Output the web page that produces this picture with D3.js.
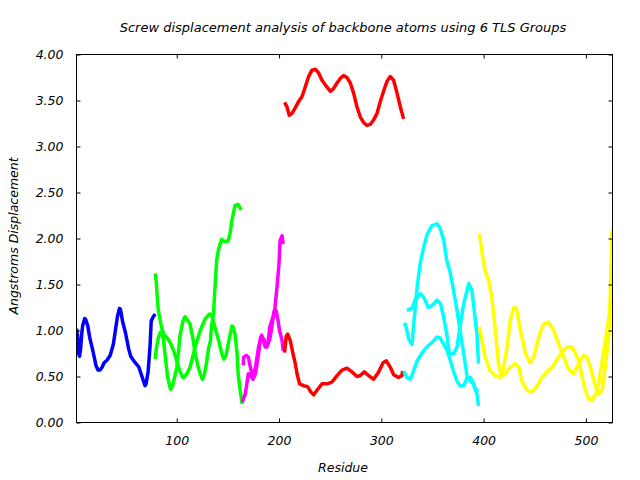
<!DOCTYPE html>
<html>
<head>
<meta charset="utf-8">
<script src="https://cdn.jsdelivr.net/npm/d3@7"></script>
<style>
  html, body { margin: 0; padding: 0; background: #fff; }
  svg text { font-family: "DejaVu Sans", sans-serif; font-style: italic; fill: #000; }
</style>
</head>
<body>
<svg id="chart" width="640" height="480"></svg>
<script>
// ---- Data: [residue, displacement (Å)] ----
const title = "Screw displacement analysis of backbone atoms using 6 TLS Groups";
const xLabel = "Residue";
const yLabel = "Angstroms Displacement";
const xTicks = [100, 200, 300, 400, 500];
const yTicks = [0, 0.5, 1, 1.5, 2, 2.5, 3, 3.5, 4];

const blue1 = [[2,1.02],[3,0.95],[4,0.75],[5,0.72],[6,0.8],[7,0.95],[8,1.05],[10,1.13],[11,1.12],[13,1.05],[15,0.92],[18,0.78],[21,0.62],[23,0.57],[25,0.57],[27,0.6],[29,0.65],[32,0.68],[35,0.73],[38,0.85],[40,1.0],[42,1.15],[44,1.24],[45,1.23],[47,1.1],[50,0.97],[53,0.8],[55,0.72],[58,0.67],[61,0.63],[63,0.6],[66,0.5],[69,0.4],[70,0.42],[72,0.55],[74,0.85],[75,1.1],[77,1.15],[79,1.18]];

const green1 = [[79,1.62],[80,1.53],[81,1.35],[82,1.22],[84,1.1],[86,1.0],[88,0.95],[90,0.93],[92,0.9],[94,0.86],[97,0.78],[100,0.67],[103,0.56],[106,0.49],[107,0.49],[110,0.53],[113,0.6],[118,0.82],[123,1.0],[128,1.13],[132,1.18],[134,1.17],[137,1.05],[141,0.89],[144,0.75],[146,0.69],[148,0.72],[151,0.89],[154,1.05],[155,1.04],[157,0.96],[159,0.75],[160,0.53],[162,0.35],[164,0.2]];
const green2 = [[79,0.69],[80,0.8],[82,0.92],[84,0.98],[86,0.95],[87,0.9],[89,0.7],[91,0.5],[93,0.4],[94,0.36],[96,0.4],[98,0.5],[100,0.6],[102,0.8],[103,0.93],[106,1.1],[108,1.15],[110,1.12],[113,1.07],[116,0.9],[118,0.75],[121,0.6],[123,0.53],[125,0.47],[127,0.52],[129,0.64],[131,0.8],[133,0.89],[134,1.05],[136,1.18],[137,1.4],[138,1.58],[139,1.76],[141,1.89],[144,1.99],[146,1.97],[150,1.97],[152,2.05],[154,2.2],[157,2.36],[160,2.37],[163,2.31]];

const magenta1 = [[165,0.62],[165.5,0.71],[168,0.73],[170,0.71],[172,0.6],[174.5,0.47],[177,0.53],[180,0.75],[182,0.93],[185,0.91],[188,0.82],[191,0.91],[193,1.04],[195,1.2],[197,1.22],[199,1.11],[200.5,1.0],[203,0.89],[204,0.78]];
const magenta2 = [[164,0.22],[167,0.31],[170,0.53],[173.5,0.49],[177,0.6],[180,0.82],[183,0.95],[186.5,0.82],[189,0.85],[191,1.04],[195,1.18],[196,1.25],[198,1.47],[200,1.73],[201,1.98],[203,2.03],[204,1.94]];

const red1 = [[205.4,3.48],[207.8,3.43],[210,3.34],[212.7,3.36],[215.9,3.42],[219.1,3.49],[222.4,3.54],[225.7,3.65],[228.9,3.76],[232.2,3.83],[235.5,3.84],[238.7,3.8],[242,3.72],[245.2,3.67],[250.1,3.6],[253.3,3.63],[256.7,3.69],[259.9,3.74],[263.1,3.77],[266.4,3.75],[269.7,3.69],[272.9,3.58],[276.2,3.43],[279.5,3.32],[282.7,3.26],[286,3.23],[289.2,3.24],[292.5,3.29],[295.8,3.36],[299,3.49],[302.2,3.6],[305.6,3.71],[308.8,3.76],[312,3.72],[315.4,3.58],[318.6,3.43],[321.8,3.3]];
const red2 = [[205.4,0.76],[207.1,0.94],[208.4,0.96],[211,0.89],[213.6,0.75],[215.9,0.64],[217.6,0.53],[220.1,0.42],[224,0.4],[227.9,0.39],[231.2,0.33],[233.8,0.3],[237.1,0.35],[242,0.42],[246.9,0.42],[251.8,0.44],[256.7,0.51],[261.6,0.57],[266.4,0.59],[271.3,0.55],[276.2,0.5],[279.5,0.51],[283.4,0.55],[287.6,0.51],[292.5,0.47],[297.4,0.55],[301.7,0.65],[304.9,0.67],[308.8,0.6],[312,0.52],[316.9,0.49],[320.2,0.51],[320.8,0.56]];

const cyan1 = [[322,1.05],[323.5,1.07],[325,1.0],[327,0.9],[330,0.85],[332,1.11],[335,1.47],[338,1.73],[341.5,1.91],[345,2.05],[349.5,2.14],[354.5,2.16],[357.5,2.11],[361,1.98],[364,1.76],[367.5,1.62],[370.5,1.44],[374,1.22],[377,1.0],[380.5,0.75],[384,0.49],[387,0.45],[390,0.42],[393.5,0.31],[395,0.18]];
const cyan2 = [[325,1.22],[330,1.24],[333,1.33],[338,1.4],[341.5,1.36],[346,1.25],[349.5,1.27],[354.5,1.33],[358,1.29],[361,1.14],[364,0.96],[366,0.78],[367.5,0.75],[371,0.75],[374,0.82],[377,1.04],[380.5,1.29],[385.5,1.51],[388.5,1.44],[390.5,1.25],[393.5,0.96],[395,0.64]];
const cyan3 = [[322,0.56],[325,0.49],[328.5,0.47],[331.5,0.56],[335,0.67],[340,0.76],[344.5,0.82],[349.5,0.87],[354.5,0.93],[357.5,0.92],[361,0.85],[364.5,0.78],[367.5,0.67],[370.5,0.56],[374,0.45],[377,0.4],[380.5,0.4],[384,0.49],[387,0.49],[390.5,0.42],[392,0.35],[395,0.36]];

const yellow1 = [[396,2.05],[398.5,1.84],[401.5,1.65],[405,1.54],[408,1.36],[411.5,1.0],[414.5,0.64],[417.5,0.51],[419.5,0.6],[423,0.82],[426,1.11],[429.5,1.25],[432,1.24],[436,1.0],[441,0.75],[445.5,0.65],[449,0.71],[454,0.93],[458.5,1.07],[463.5,1.09],[468.5,1.0],[473.5,0.85],[478.5,0.71],[483,0.58],[488,0.53],[493,0.64],[498,0.73],[501,0.71],[504.5,0.6],[508.5,0.42],[512.5,0.31],[516,0.35],[519,0.6],[522.5,0.96],[524,1.47],[525.5,2.09]];
const yellow2 = [[396,1.04],[398.5,0.89],[401.5,0.71],[406.5,0.56],[411.5,0.51],[416.5,0.49],[421,0.53],[426,0.6],[431,0.64],[434.5,0.6],[437.5,0.45],[442.5,0.35],[447.5,0.33],[452.5,0.4],[457,0.49],[462,0.55],[467,0.6],[472,0.69],[476.5,0.76],[481.5,0.82],[486.5,0.82],[489.5,0.76],[493,0.67],[496,0.51],[499.5,0.35],[502.5,0.26],[506,0.24],[509.5,0.31],[512.5,0.42],[515,0.6],[517.5,0.78],[520.5,1.0],[524,1.25],[525.5,1.36]];

const seriesList = [
  {data: blue1, color: "#0000ff"},
  {data: green1, color: "#00ff00"},
  {data: green2, color: "#00ff00"},
  {data: magenta1, color: "#ff00ff"},
  {data: magenta2, color: "#ff00ff"},
  {data: red1, color: "#ff0000"},
  {data: red2, color: "#ff0000"},
  {data: cyan1, color: "#00ffff"},
  {data: cyan2, color: "#00ffff"},
  {data: cyan3, color: "#00ffff"},
  {data: yellow1, color: "#ffff00"},
  {data: yellow2, color: "#ffff00"}
];

// ---- Layout ----
const svg = d3.select("#chart");
const L = 76.5, R = 612.5, T = 54.5, B = 422.5;
const x = d3.scaleLinear().domain([2, 526]).range([L, R]);
const y = d3.scaleLinear().domain([0, 4]).range([B, T]);

svg.append("clipPath").attr("id", "clip")
  .append("rect").attr("x", L).attr("y", T).attr("width", R - L).attr("height", B - T);

const line = d3.line().x(d => x(d[0])).y(d => y(d[1]));
svg.append("g").attr("clip-path", "url(#clip)")
  .selectAll("path").data(seriesList).join("path")
  .attr("d", s => line(s.data))
  .attr("fill", "none")
  .attr("stroke", s => s.color)
  .attr("stroke-width", 3.5)
  .attr("stroke-linejoin", "round")
  .attr("stroke-linecap", "butt");

const tickLen = 4;
const gBottom = svg.append("g").attr("transform", `translate(0,${B})`)
  .call(d3.axisBottom(x).tickValues(xTicks).tickSizeInner(-tickLen).tickSizeOuter(0).tickPadding(14).tickFormat(d3.format("d")));
const gTop = svg.append("g").attr("transform", `translate(0,${T})`)
  .call(d3.axisTop(x).tickValues(xTicks).tickSizeInner(-tickLen).tickSizeOuter(0).tickFormat(""));
const gLeft = svg.append("g").attr("transform", `translate(${L},0)`)
  .call(d3.axisLeft(y).tickValues(yTicks).tickSizeInner(-tickLen).tickSizeOuter(0).tickPadding(13).tickFormat(d3.format(".2f")));
const gRight = svg.append("g").attr("transform", `translate(${R},0)`)
  .call(d3.axisRight(y).tickValues(yTicks).tickSizeInner(-tickLen).tickSizeOuter(0).tickFormat(""));

[gBottom, gTop, gLeft, gRight].forEach(g => {
  g.select(".domain").remove();
  g.selectAll("line").attr("stroke", "#000");
  g.selectAll("text").attr("font-size", 12.5).attr("font-family", "DejaVu Sans").attr("font-style", "italic");
});

svg.append("rect").attr("x", L).attr("y", T).attr("width", R - L).attr("height", B - T)
  .attr("fill", "none").attr("stroke", "#000").attr("stroke-width", 1);

svg.append("text").attr("x", 343).attr("y", 32).attr("text-anchor", "middle")
  .attr("font-size", 13).text(title);
svg.append("text").attr("x", 343).attr("y", 472).attr("text-anchor", "middle")
  .attr("font-size", 12.5).text(xLabel);
svg.append("text").attr("transform", `translate(18,236) rotate(-90)`)
  .attr("text-anchor", "middle").attr("font-size", 12.5).text(yLabel);
</script>
</body>
</html>
